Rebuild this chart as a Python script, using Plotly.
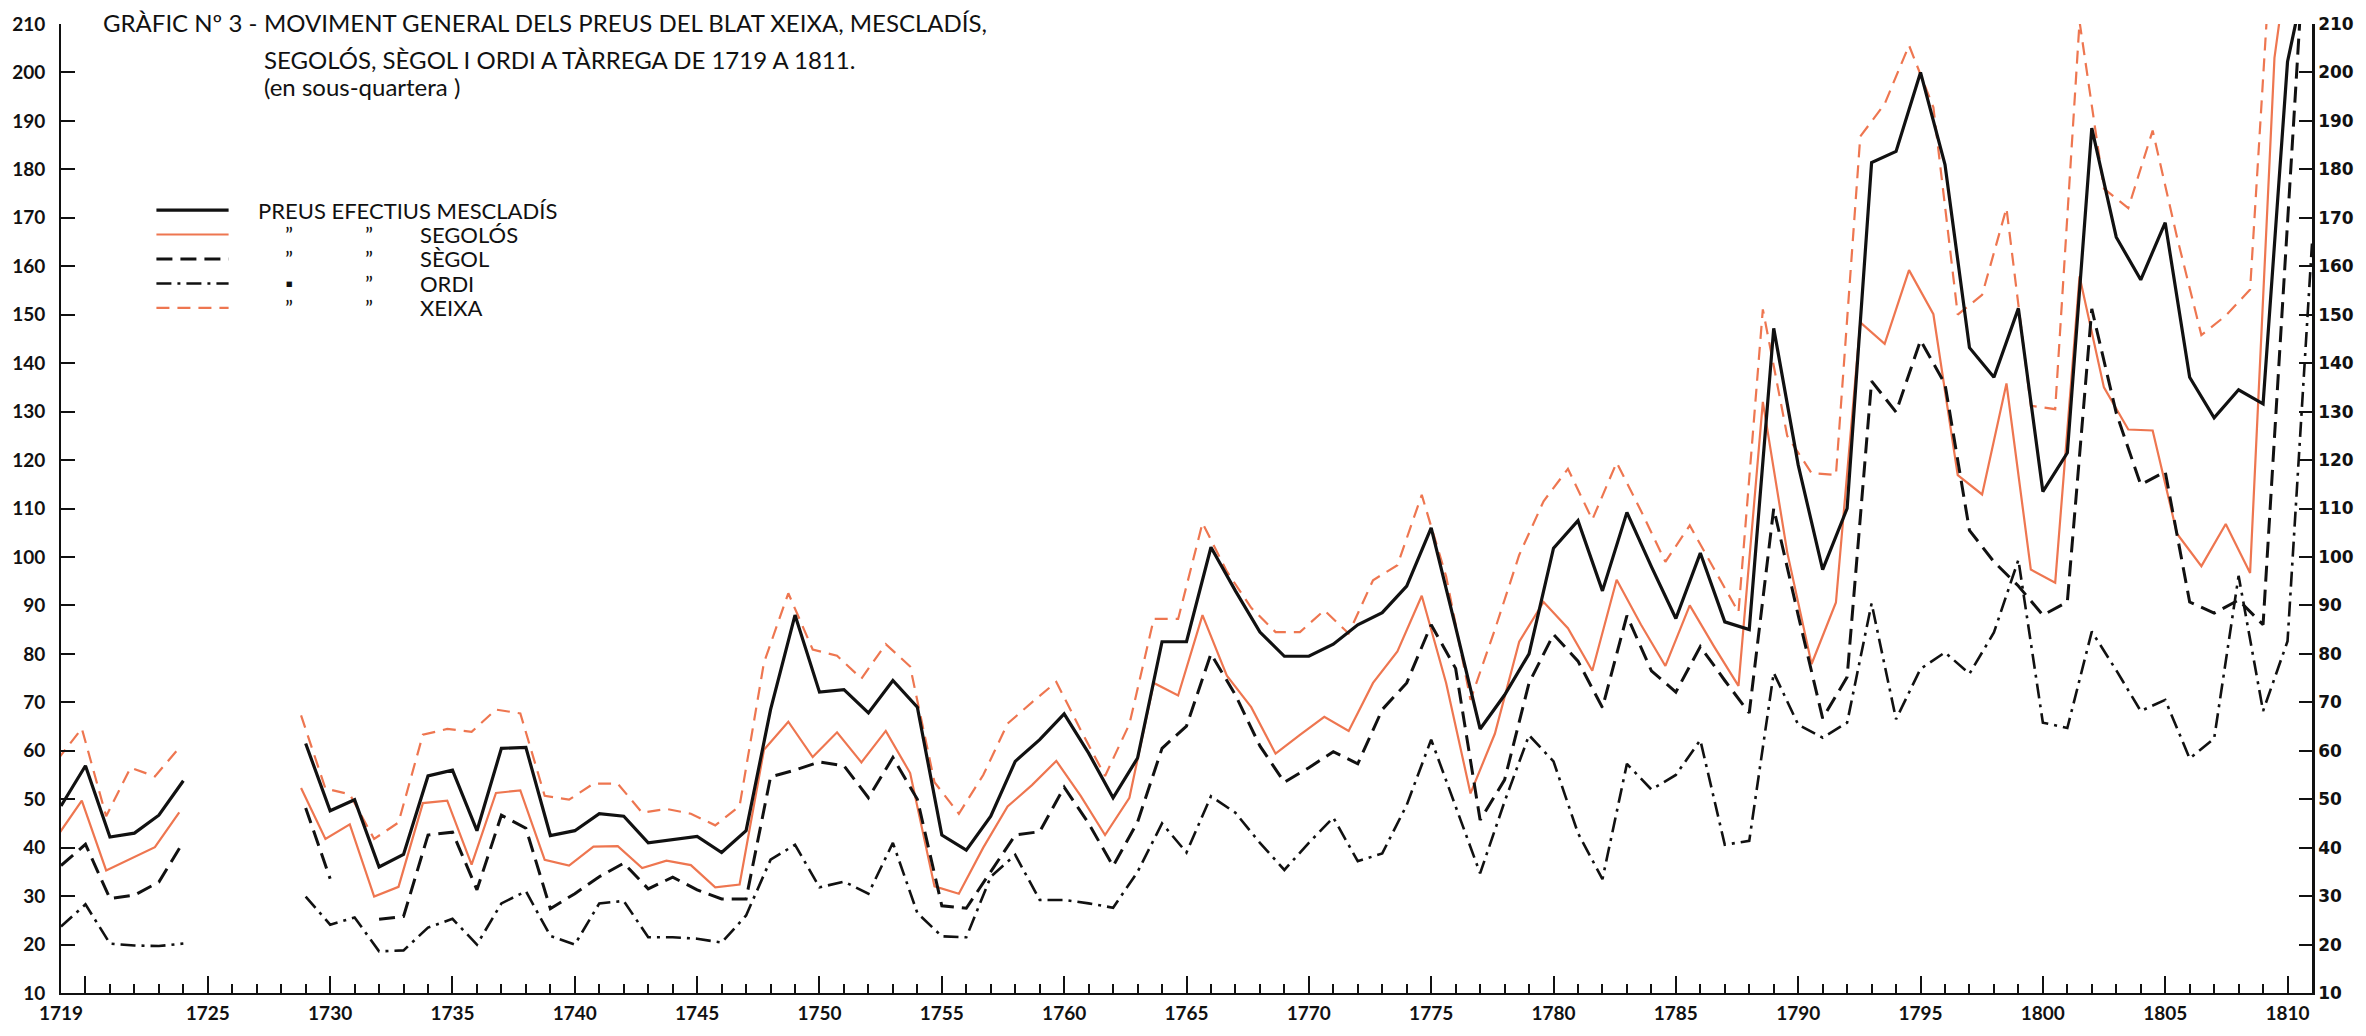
import plotly.graph_objects as go

N = None
years = list(range(1719, 1812))

mescladis = [
    48.6, 56.9, 42.2, 43.0, 46.7, 53.8, N, N, N, N,
    61.5, 47.6, 49.9, 36.0, 38.6, 54.8, 56.0, 43.5, 60.5, 60.7,
    42.5, 43.5, 47.0, 46.5, 41.0, 41.7, 42.3, 39.0, 43.5, 68.5,
    88.0, 72.1, 72.6, 67.8, 74.5, 69.0, 42.6, 39.5, 46.5, 57.8,
    62.3, 67.6, 59.5, 50.3, 58.5, 82.5, 82.5, 102.0, 93.0, 84.5,
    79.5, 79.5, 82.0, 86.0, 88.5, 94.0, 106.0, 85.5, 64.5, 71.5,
    80.0, 101.8, 107.5, 93.0, 109.2, 98.0, 87.3, 100.8, 86.6, 85.0,
    147.2, 119.0, 97.4, 110.0, 181.4, 183.7, 200.0, 181.0, 143.2, 137.1,
    151.3, 113.5, 121.5, 188.5, 166.0, 157.2, 169.0, 137.1, 128.7, 134.5,
    131.6, 202.2, 226.0,
]
segolos = [
    42.4, 49.7, 35.3, 37.7, 40.1, 47.3, N, N, N, N,
    52.3, 41.8, 44.8, 29.9, 31.9, 49.2, 49.7, 36.5, 51.3, 51.8,
    37.5, 36.3, 40.2, 40.3, 35.8, 37.3, 36.4, 31.8, 32.4, 60.2,
    66.0, 58.7, 63.8, 57.6, 64.1, 55.4, 32.0, 30.5, 40.0, 48.5,
    52.9, 57.9, 50.7, 42.6, 50.3, 74.0, 71.4, 88.0, 75.5, 69.0,
    59.4, 63.3, 67.0, 64.1, 74.0, 80.5, 92.0, 74.0, 51.2, 63.5,
    82.5, 90.7, 85.3, 76.5, 95.3, 86.0, 77.5, 90.0, 81.5, 73.4,
    132.0, 101.0, 77.9, 90.6, 148.4, 144.0, 159.2, 150.1, 116.9, 112.9,
    135.8, 97.4, 94.7, 157.9, 135.0, 126.3, 126.1, 104.8, 98.1, 106.8,
    96.7, 203.0, 240.0,
]
segol = [
    36.3, 40.7, 29.5, 30.2, 32.9, 41.2, N, N, N, N,
    48.2, 33.6, N, 25.2, 25.8, 42.6, 43.2, 31.3, 46.7, 44.0,
    27.4, 30.5, 34.0, 36.8, 31.5, 33.9, 31.3, 29.4, 29.4, 54.6,
    56.0, 57.7, 56.9, 50.3, 58.6, 50.0, 28.0, 27.5, 35.0, 42.6,
    43.3, 52.5, 45.0, 36.2, 45.3, 60.5, 65.1, 80.0, 71.5, 61.0,
    53.5, 56.5, 59.8, 57.3, 68.5, 74.0, 86.0, 77.0, 45.7, 54.0,
    74.0, 84.0, 78.5, 68.9, 87.9, 76.5, 72.1, 81.5, 74.5, 67.8,
    110.0, 88.0, 66.7, 75.2, 136.3, 129.9, 144.7, 135.7, 105.5, 99.0,
    94.0, 88.0, 90.7, 151.2, 129.7, 114.9, 117.6, 90.7, 88.4, 91.1,
    86.0, 169.0, 252.0,
]
ordi = [
    23.7, 28.3, 20.2, 19.8, 19.7, 20.2, N, N, N, N,
    29.9, 24.1, 25.6, 18.6, 18.8, 23.5, 25.3, 20.0, 28.5, 31.0,
    21.8, 20.0, 28.5, 29.0, 21.5, 21.5, 21.2, 20.4, 26.0, 37.5,
    40.6, 31.8, 33.0, 30.5, 41.0, 26.5, 21.7, 21.5, 34.0, 38.5,
    29.2, 29.2, 28.5, 27.6, 35.0, 45.0, 39.0, 50.6, 47.2, 41.0,
    35.4, 41.0, 46.2, 37.2, 38.8, 48.8, 62.3, 48.5, 34.7, 49.5,
    63.2, 57.8, 43.0, 33.5, 57.3, 52.0, 55.0, 62.2, 40.6, 41.4,
    76.1, 65.4, 62.7, 65.8, 90.4, 66.5, 76.9, 80.3, 75.9, 84.4,
    99.4, 65.8, 64.7, 84.6, 76.6, 68.2, 70.5, 58.4, 62.5, 96.1,
    68.2, 82.6, 164.7,
]
xeixa = [
    58.1, 64.6, 46.5, 56.5, 54.7, 60.6, N, N, N, N,
    67.3, 52.2, 51.0, 41.8, 45.2, 63.3, 64.5, 63.9, 68.5, 67.7,
    50.7, 49.9, 53.2, 53.2, 47.2, 48.0, 47.0, 44.6, 48.6, 78.2,
    92.5, 80.9, 79.6, 74.9, 82.0, 77.4, 53.5, 47.0, 55.0, 65.6,
    70.0, 74.2, 64.3, 54.8, 65.5, 87.2, 87.2, 107.0, 97.0, 89.5,
    84.5, 84.5, 89.0, 84.2, 95.2, 98.3, 112.8, 96.0, 70.5, 85.0,
    100.4, 111.5, 118.2, 107.7, 119.5, 109.5, 99.0, 106.5, 97.5, 88.6,
    151.1, 125.0, 117.3, 116.9, 186.8, 193.5, 205.6, 192.8, 150.0, 154.1,
    172.0, 131.2, 130.5, 210.5, 176.0, 172.0, 188.0, 166.0, 145.8, 149.8,
    155.2, 237.0, N,
]

tick_years = [1719] + list(range(1720, 1811, 5))
tick_text = ["1719"] + ["" if y == 1720 else str(y) for y in range(1720, 1811, 5)]
y_ticks = list(range(10, 211, 10))

legend_first = "PREUS EFECTIUS MESCLADÍS"
legend_names = ["SEGOLÓS", "SÈGOL", "ORDI", "XEIXA"]
ditto_marks = [("\u201d", "\u201d"), ("\u201d", "\u201d"), ("\u25aa", "\u201d"), ("\u201d", "\u201d")]

BLACK = "#111111"
ORANGE = "#EE7650"


def red_plate_shift(y):
    # the red (orange) curves of the original print sit slightly to the left
    return y - (0.15 + 0.35 * max(0, y - 1720) / 82.0)


x_orange = [red_plate_shift(y) for y in years]

styles = {
    "mescladis": dict(color=BLACK, width=3.2, dash="solid"),
    "segolos": dict(color=ORANGE, width=2.2, dash="solid"),
    "segol": dict(color=BLACK, width=3.0, dash="16px,8px"),
    "ordi": dict(color=BLACK, width=2.6, dash="15px,6px,3px,6px"),
    "xeixa": dict(color=ORANGE, width=2.2, dash="13px,8px"),
}

fig = go.Figure()
fig.add_trace(go.Scatter(x=x_orange, y=xeixa, mode="lines", line=styles["xeixa"],
                         name="XEIXA", connectgaps=False))
fig.add_trace(go.Scatter(x=x_orange, y=segolos, mode="lines", line=styles["segolos"],
                         name="SEGOLÓS", connectgaps=False))
fig.add_trace(go.Scatter(x=years, y=segol, mode="lines", line=styles["segol"],
                         name="SÈGOL", connectgaps=False))
fig.add_trace(go.Scatter(x=years, y=mescladis, mode="lines", line=styles["mescladis"],
                         name="MESCLADÍS", connectgaps=False))
fig.add_trace(go.Scatter(x=years, y=ordi, mode="lines", line=styles["ordi"],
                         name="ORDI", connectgaps=False, yaxis="y2"))

axis_font = dict(family="Lato", size=19, color=BLACK, weight="bold")

fig.update_layout(
    width=2366, height=1036,
    margin=dict(l=58, r=43, t=24, b=32, pad=0),
    paper_bgcolor="white", plot_bgcolor="white",
    showlegend=False,
    xaxis=dict(
        range=[1719, 1811], showgrid=False, zeroline=False,
        showline=True, linecolor=BLACK, linewidth=2,
        tickmode="array", tickvals=tick_years, ticktext=tick_text,
        ticks="inside", ticklen=17, tickwidth=2, tickcolor=BLACK,
        tickfont=axis_font, ticklabelstandoff=2,
        minor=dict(tickmode="linear", tick0=1719, dtick=1, ticks="inside",
                   ticklen=9, tickwidth=2, tickcolor=BLACK, showgrid=False),
    ),
    yaxis=dict(
        range=[10, 210], showgrid=False, zeroline=False,
        showline=True, linecolor=BLACK, linewidth=2,
        tickmode="array", tickvals=y_ticks,
        ticks="inside", ticklen=14, tickwidth=2, tickcolor=BLACK,
        tickfont=axis_font, ticklabelstandoff=10,
    ),
    yaxis2=dict(
        range=[10, 210], overlaying="y", side="right", anchor="x",
        showgrid=False, zeroline=False,
        showline=True, linecolor=BLACK, linewidth=2.5,
        tickmode="array", tickvals=y_ticks,
        ticks="inside", ticklen=13, tickwidth=2, tickcolor=BLACK,
        tickfont=dict(family="DejaVu Sans", size=17, color=BLACK, weight="bold"),
    ),
)

# title block
title_font = dict(family="Lato", size=24, color=BLACK)
fig.add_annotation(x=1727.1, y=(210.3 - 10) / 200, xref="x", yref="paper",
                   text="GRÀFIC Nº 3 -", showarrow=False, xanchor="right",
                   yanchor="middle", font=title_font)
title_lines = [
    ("MOVIMENT GENERAL DELS PREUS DEL BLAT XEIXA, MESCLADÍS,", 210.3),
    ("SEGOLÓS, SÈGOL I ORDI A TÀRREGA DE 1719 A 1811.", 202.6),
    ("(en sous-quartera )", 197.0),
]
for txt, lvl in title_lines:
    fig.add_annotation(x=1727.2, y=(lvl - 10) / 200, xref="x", yref="paper",
                       text=txt, showarrow=False, xanchor="left", yanchor="middle",
                       font=title_font)

# legend block
leg_font = dict(family="Lato", size=22, color=BLACK)
leg_keys = ["mescladis", "segolos", "segol", "ordi", "xeixa"]
row0, step = 171.6, 5.05
for i, key in enumerate(leg_keys):
    lvl = row0 - i * step
    st = styles[key]
    fig.add_shape(type="line", xref="x", yref="y", x0=1722.9, x1=1725.85,
                  y0=lvl, y1=lvl, line=dict(color=st["color"], width=st["width"],
                                            dash=st["dash"]))
    if i == 0:
        fig.add_annotation(x=1726.95, y=lvl, xref="x", yref="y", text=legend_first,
                           showarrow=False, xanchor="left", yanchor="middle",
                           font=leg_font)
    else:
        m1, m2 = ditto_marks[i - 1]
        fig.add_annotation(x=1728.3, y=lvl, xref="x", yref="y", text=m1,
                           showarrow=False, xanchor="center", yanchor="middle",
                           font=dict(family="Lato", size=20 if m1 == "\u25aa" else 22,
                                     color=BLACK))
        fig.add_annotation(x=1731.6, y=lvl, xref="x", yref="y", text=m2,
                           showarrow=False, xanchor="center", yanchor="middle",
                           font=leg_font)
        fig.add_annotation(x=1733.6, y=lvl, xref="x", yref="y", text=legend_names[i - 1],
                           showarrow=False, xanchor="left", yanchor="middle",
                           font=leg_font)

fig.write_html("out.html", config={"displayModeBar": False},
               post_script="document.body.style.margin='0';")
